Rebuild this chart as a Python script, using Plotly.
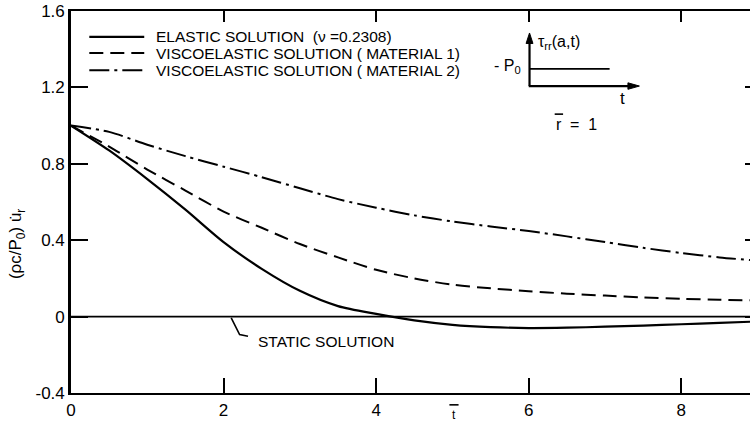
import plotly.graph_objects as go

# ---- data ----
t_bar = [0, 0.5, 1.0, 1.5, 2.0, 2.5, 3.0, 3.5, 4.0, 4.5, 5.0, 5.5, 6.0, 6.5, 7.0, 7.5, 8.0, 8.5, 8.9]
elastic = [1.0, 0.87, 0.72, 0.56, 0.39, 0.25, 0.135, 0.055, 0.014, -0.02, -0.043, -0.055, -0.06,
           -0.058, -0.053, -0.047, -0.04, -0.033, -0.027]
visco_m1 = [1.0, 0.89, 0.77, 0.66, 0.55, 0.465, 0.38, 0.31, 0.245, 0.2, 0.167, 0.148, 0.133,
            0.12, 0.11, 0.1, 0.093, 0.088, 0.085]
visco_m2 = [1.0, 0.967, 0.9, 0.84, 0.785, 0.73, 0.672, 0.615, 0.57, 0.53, 0.498, 0.472, 0.448,
            0.42, 0.39, 0.36, 0.333, 0.31, 0.296]
static_t = [0, 8.9]
static_val = [0, 0]

x_ticks = [0, 2, 4, 6, 8]
y_ticks = [-0.4, 0, 0.4, 0.8, 1.2, 1.6]
y_tick_labels = ["-0.4", "0", "0.4", "0.8", "1.2", "1.6"]

legend_names = ["ELASTIC SOLUTION  (\u03bd =0.2308)",
                "VISCOELASTIC SOLUTION ( MATERIAL 1)",
                "VISCOELASTIC SOLUTION ( MATERIAL 2)"]

FONT = "Liberation Sans"
BLACK = "#000000"
dashes = ["solid", "14px,7px", "20px,5px,3px,5px"]
widths = [2.2, 2.0, 2.0]

fig = go.Figure()
for yv, name, d, w in zip([elastic, visco_m1, visco_m2], legend_names, dashes, widths):
    fig.add_trace(go.Scatter(x=t_bar, y=yv, mode="lines", name=name,
                             line=dict(color=BLACK, width=w, dash=d, shape="spline", smoothing=0.8),
                             showlegend=False, hoverinfo="skip"))
# static solution drawn on the mirrored (top/right) axes so those axes get rendered too
fig.add_trace(go.Scatter(x=static_t, y=static_val, mode="lines", name="STATIC SOLUTION",
                         xaxis="x2", yaxis="y2",
                         line=dict(color=BLACK, width=1.6), showlegend=False, hoverinfo="skip"))

shapes = []
annotations = []

# legend samples + labels
legend_rows_y = [1.465, 1.38, 1.29]
for ry, name, d, w in zip(legend_rows_y, legend_names, dashes, widths):
    shapes.append(dict(type="line", xref="x", yref="y", x0=0.24, x1=0.96, y0=ry, y1=ry,
                       line=dict(color=BLACK, width=w, dash=d)))
    annotations.append(dict(xref="x", yref="y", x=1.09, y=ry, text=name, showarrow=False,
                            xanchor="left", yanchor="middle",
                            font=dict(family=FONT, size=15.5, color=BLACK)))

# static solution leader + label
shapes.append(dict(type="path", xref="x", yref="y",
                   path="M 2.1,-0.007 L 2.21,-0.094 L 2.32,-0.103",
                   line=dict(color=BLACK, width=1.6)))
annotations.append(dict(xref="x", yref="y", x=2.43, y=-0.13, text="STATIC SOLUTION",
                        showarrow=False, xanchor="left", yanchor="middle",
                        font=dict(family=FONT, size=15.5, color=BLACK)))

# inset: loading history (axes with arrowheads, step load)
shapes.append(dict(type="line", xref="x", yref="y", x0=6.01, x1=7.06, y0=1.297, y1=1.297,
                   line=dict(color=BLACK, width=1.6)))
shapes.append(dict(type="line", xref="x", yref="y", x0=6.01, x1=6.01, y0=1.207, y1=1.44,
                   line=dict(color=BLACK, width=2.2)))
shapes.append(dict(type="path", xref="x", yref="y", fillcolor=BLACK,
                   path="M 5.965,1.43 L 6.055,1.43 L 6.01,1.485 Z",
                   line=dict(color=BLACK, width=1)))
shapes.append(dict(type="line", xref="x", yref="y", x0=6.0, x1=7.35, y0=1.207, y1=1.207,
                   line=dict(color=BLACK, width=2.2)))
shapes.append(dict(type="path", xref="x", yref="y", fillcolor=BLACK,
                   path="M 7.3,1.19 L 7.3,1.224 L 7.45,1.207 Z",
                   line=dict(color=BLACK, width=1)))
annotations.append(dict(xref="x", yref="y", x=6.1, y=1.435,
                        text="\u03c4<sub>rr</sub>(a,t)", showarrow=False,
                        xanchor="left", yanchor="middle",
                        font=dict(family=FONT, size=16, color=BLACK)))
annotations.append(dict(xref="x", yref="y", x=5.93, y=1.31,
                        text="- P<sub>0</sub>", showarrow=False,
                        xanchor="right", yanchor="middle",
                        font=dict(family=FONT, size=16, color=BLACK)))
annotations.append(dict(xref="x", yref="y", x=7.23, y=1.14, text="t", showarrow=False,
                        xanchor="center", yanchor="middle",
                        font=dict(family=FONT, size=17, color=BLACK)))
annotations.append(dict(xref="x", yref="y", x=6.39, y=1.005, text="r", showarrow=False,
                        xanchor="center", yanchor="middle",
                        font=dict(family=FONT, size=16, color=BLACK)))
shapes.append(dict(type="line", xref="x", yref="y", x0=6.34, x1=6.45, y0=1.06, y1=1.06,
                   line=dict(color=BLACK, width=1.6)))
annotations.append(dict(xref="x", yref="y", x=6.52, y=1.005, text="=  1", showarrow=False,
                        xanchor="left", yanchor="middle",
                        font=dict(family=FONT, size=16, color=BLACK)))

# axis titles
annotations.append(dict(xref="paper", yref="y", x=-0.0795, y=0.38,
                        text="(\u03c1c/P<sub>0</sub>) u\u0307<sub>r</sub>",
                        textangle=-90, showarrow=False, xanchor="center", yanchor="middle",
                        font=dict(family=FONT, size=17, color=BLACK)))
annotations.append(dict(xref="x", yref="paper", x=5.02, y=-0.033, text="t",
                        showarrow=False, xanchor="center", yanchor="top",
                        font=dict(family=FONT, size=12, color=BLACK)))
shapes.append(dict(type="line", xref="x", yref="paper", x0=4.96, x1=5.08, y0=-0.031, y1=-0.031,
                   line=dict(color=BLACK, width=1.6)))

fig.update_layout(
    width=750, height=423,
    margin=dict(l=71, r=0, t=11, b=30, autoexpand=False),
    paper_bgcolor="white", plot_bgcolor="white",
    font=dict(family=FONT, size=16, color=BLACK),
    showlegend=False,
    shapes=shapes, annotations=annotations,
    xaxis=dict(range=[0, 8.9], tickvals=x_ticks, ticktext=[str(v) for v in x_ticks],
               ticks="inside", ticklen=15, tickwidth=1.6, tickcolor=BLACK, automargin=False,
               showline=True, linecolor=BLACK, linewidth=2.2, showgrid=False, zeroline=False,
               ticklabelstandoff=0,
               tickfont=dict(family=FONT, size=17, color=BLACK)),
    yaxis=dict(range=[-0.4, 1.6], tickvals=y_ticks, ticktext=y_tick_labels,
               ticks="inside", ticklen=17, tickwidth=1.6, tickcolor=BLACK, automargin=False,
               showline=True, linecolor=BLACK, linewidth=2.6, showgrid=False, zeroline=False,
               tickfont=dict(family=FONT, size=17, color=BLACK)),
    xaxis2=dict(overlaying="x", side="top", range=[0, 8.9], tickvals=x_ticks,
                showticklabels=False, ticks="inside", ticklen=11, tickwidth=1.6,
                tickcolor=BLACK, showline=True, linecolor=BLACK, linewidth=2.2,
                showgrid=False, zeroline=False, automargin=False),
    yaxis2=dict(overlaying="y", side="right", range=[-0.4, 1.6], tickvals=y_ticks,
                showticklabels=False, ticks="inside", ticklen=5, tickwidth=1.6,
                tickcolor=BLACK, showline=False, showgrid=False, zeroline=False,
                automargin=False),
)

# the page's default 8px body margin would shift the figure; remove it
fig.write_html("out.html", config={"displayModeBar": False},
               post_script="document.body.style.margin='0';document.body.style.overflow='hidden';")
